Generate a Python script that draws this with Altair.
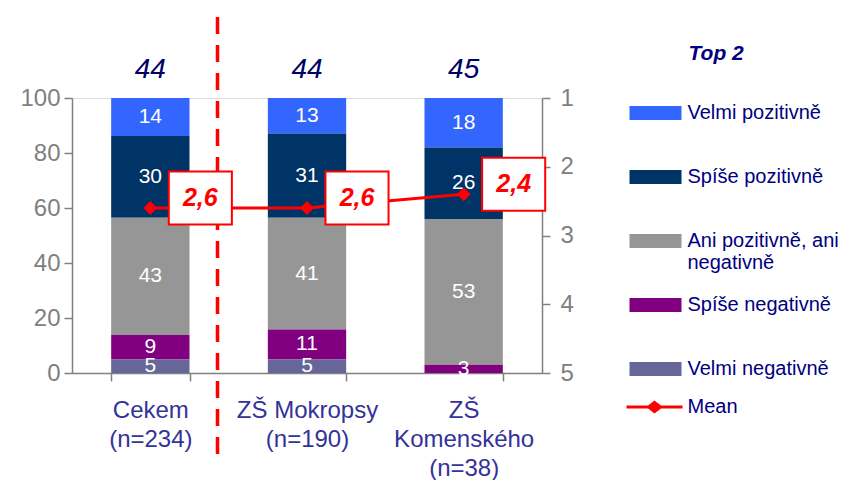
import altair as alt
import pandas as pd

# ---------------- data ----------------
categories = ["Cekem\n(n=234)", "ZŠ Mokropsy\n(n=190)", "ZŠ\nKomenského\n(n=38)"]
series = ["Velmi pozitivně", "Spíše pozitivně", "Ani pozitivně, ani\nnegativně",
          "Spíše negativně", "Velmi negativně"]
velmi_pozitivne = [14, 13, 18]
spise_pozitivne = [30, 31, 26]
ani = [43, 41, 53]
spise_negativne = [9, 11, 3]
velmi_negativne = [5, 5, 0]
top2 = [44, 44, 45]
means = [2.6, 2.6, 2.4]
colors = ["#3366FF", "#003366", "#969696", "#800080", "#666699"]

values_by_series = [velmi_pozitivne, spise_pozitivne, ani, spise_negativne, velmi_negativne]
rows = []
for si, (s, vals) in enumerate(zip(series, values_by_series)):
    for c, v in zip(categories, vals):
        rows.append({"cat": c, "series": s, "value": v, "order": len(series) - 1 - si})
df_bars = pd.DataFrame(rows)
df_top = pd.DataFrame({"cat": categories, "top2": top2})
df_mean = pd.DataFrame({"cat": categories, "mean": means})
df_div = pd.DataFrame({"cat": categories[:1]})

FONT = "Liberation Sans"

x_axis = alt.Axis(title=None, labelExpr="split(datum.label, '\\n')", labelAngle=0,
                  labelFont=FONT, labelFontSize=24, labelColor="#333399",
                  labelLineHeight=29, labelPadding=17,
                  domainColor="#808080", domainWidth=1.5, tickColor="#808080",
                  tickWidth=1.5, tickSize=8, tickBand="extent")
x_scale = alt.Scale(paddingInner=0.5, paddingOuter=0.25)

def X():
    return alt.X("cat:N", sort=categories, scale=x_scale, axis=x_axis)

left_axis = alt.Axis(title=None, values=[0, 20, 40, 60, 80, 100], grid=False,
                     labelFont=FONT, labelFontSize=24, labelColor="#808080",
                     labelPadding=4, domainColor="#808080", domainWidth=1.5,
                     tickColor="#808080", tickWidth=1.5, tickSize=8)
left_scale = alt.Scale(domain=[0, 100], nice=False)

right_axis = alt.Axis(title=None, orient="right", values=[1, 2, 3, 4, 5], grid=False,
                      labelFont=FONT, labelFontSize=24, labelColor="#808080",
                      labelPadding=10, domainColor="#808080", domainWidth=1.5,
                      tickColor="#808080", tickWidth=1.5, tickSize=8)
right_scale = alt.Scale(domain=[1, 5], reverse=True, nice=False, zero=False)

rect_path = "M-1,-0.27L1,-0.27L1,0.27L-1,0.27Z"
mean_path = ("M-1,-0.05L-0.23,-0.05L0,-0.23L0.23,-0.05L1,-0.05L1,0.05"
             "L0.23,0.05L0,0.23L-0.23,0.05L-1,0.05Z")
box_path = "M-1.19,-1L1.19,-1L1.19,1L-1.19,1Z"

# ---------------- left group (bars) ----------------
base = alt.Chart(df_bars).transform_stack(
    stack="value", groupby=["cat"], as_=["y0", "y1"], offset="normalize",
    sort=[alt.SortField(field="order", order="ascending")]
).transform_calculate(
    b0="datum.y0*100", b1="datum.y1*100", mid="(datum.y0+datum.y1)*50"
)

bars = base.mark_bar().encode(
    x=X(),
    y=alt.Y("b0:Q", scale=left_scale, axis=left_axis),
    y2="b1:Q",
    color=alt.Color("series:N", scale=alt.Scale(domain=series, range=colors),
                    legend=alt.Legend(orient="none", legendX=557.5, legendY=-11,
                                      title=None, symbolType=rect_path, symbolSize=2704,
                                      symbolStrokeWidth=0, symbolOpacity=1,
                                      labelFont=FONT, labelFontSize=20,
                                      labelColor="#000080", labelOffset=6,
                                      labelLimit=400, rowPadding=6, gridAlign="all",
                                      padding=0,
                                      labelExpr="split(datum.label, '\\n')")),
)

seg_text = base.transform_filter("datum.value > 0").mark_text(
    color="white", font=FONT, fontSize=21, baseline="middle"
).encode(
    x=X(),
    y=alt.Y("mid:Q", scale=left_scale, axis=left_axis),
    text=alt.Text("value:Q"),
)

top_text = alt.Chart(df_top).transform_calculate(ytop="100").mark_text(
    font=FONT, fontSize=28, fontStyle="italic", color="#000066",
    baseline="middle", dy=-28
).encode(
    x=X(),
    y=alt.Y("ytop:Q", scale=left_scale, axis=left_axis),
    text=alt.Text("top2:Q"),
)

divider = alt.Chart(df_div).mark_rule(
    color="#FF0000", strokeWidth=3.5, strokeDash=[17, 11], xOffset=28
).encode(
    x=alt.X("cat:N", sort=categories, scale=x_scale, axis=x_axis, bandPosition=1),
    y=alt.value(-81),
    y2=alt.value(359),
)

left = alt.layer(bars, seg_text, top_text, divider)

# ---------------- right group (mean) ----------------
mbase = alt.Chart(df_mean).transform_calculate(
    label="replace(format(datum.mean, '.1f'), '.', ',')",
    meanname="'Mean'",
)

line = mbase.mark_line(color="#FF0000", strokeWidth=3).encode(
    x=X(),
    y=alt.Y("mean:Q", scale=right_scale, axis=right_axis),
)

diamonds = mbase.mark_point(shape="diamond", filled=True, size=190, opacity=1).encode(
    x=X(),
    y=alt.Y("mean:Q", scale=right_scale, axis=right_axis),
    fill=alt.Fill("meanname:N", scale=alt.Scale(domain=["Mean"], range=["#FF0000"]),
                  legend=alt.Legend(orient="none", legendX=554.5, legendY=281,
                                    title=None, symbolType=mean_path, symbolSize=3136,
                                    symbolStrokeWidth=0, symbolOpacity=1,
                                    labelFont=FONT, labelFontSize=20,
                                    labelColor="#000080", labelOffset=5, padding=0)),
)

boxes = mbase.mark_point(shape=box_path, filled=True, fill="white", stroke="#FF0000",
                         strokeWidth=2, size=2809, opacity=1, xOffset=50, yOffset=-10).encode(
    x=X(),
    y=alt.Y("mean:Q", scale=right_scale, axis=right_axis),
)

box_text = mbase.mark_text(color="#FF0000", font=FONT, fontSize=25, fontWeight="bold",
                           fontStyle="italic", baseline="middle", dx=50, dy=-10).encode(
    x=X(),
    y=alt.Y("mean:Q", scale=right_scale, axis=right_axis),
    text="label:N",
)

right = alt.layer(line, diamonds, boxes, box_text)

chart = alt.layer(left, right).resolve_scale(y="independent").properties(
    width=470, height=275,
    padding={"left": 11, "top": 7, "right": 0, "bottom": 0},
    title=alt.TitleParams("Top 2", anchor="start", frame="group", dx=616.5, offset=-49,
                          font=FONT, fontSize=21, fontStyle="italic", fontWeight="bold",
                          color="#000080"),
).configure_view(stroke=None).configure(background="white")

chart.save("out.html", embed_options={"renderer": "svg", "actions": False})
